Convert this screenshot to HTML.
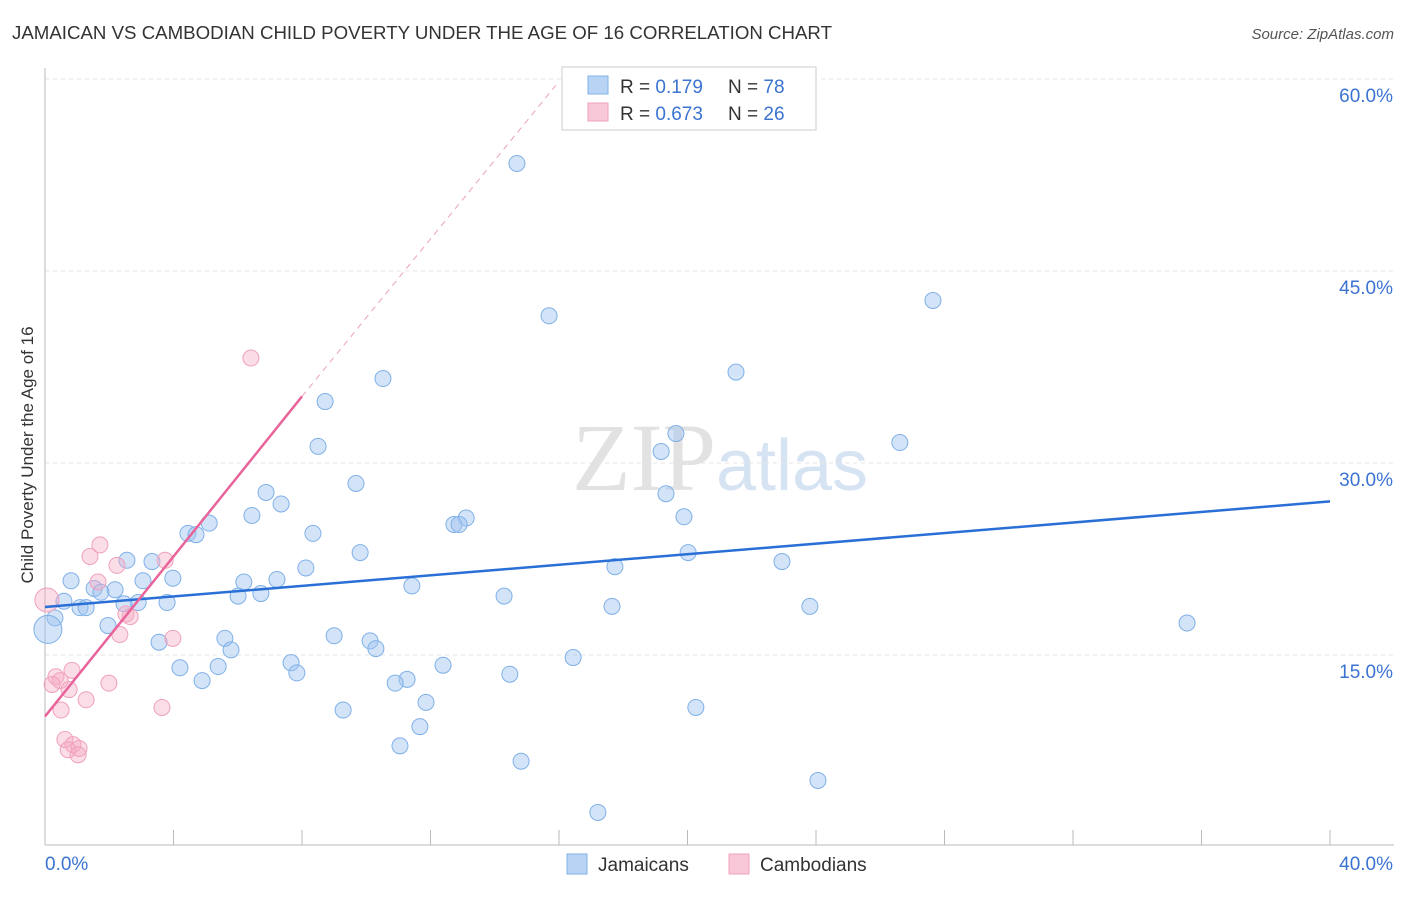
<!DOCTYPE html>
<html><head><meta charset="utf-8"><style>
body{margin:0;background:#fff;font-family:"Liberation Sans",sans-serif;}
</style></head><body>
<svg id="chart" width="1406" height="892" xmlns="http://www.w3.org/2000/svg" font-family="Liberation Sans, sans-serif">
<text x="12" y="39" font-size="18" fill="#333" textLength="820" lengthAdjust="spacingAndGlyphs">JAMAICAN VS CAMBODIAN CHILD POVERTY UNDER THE AGE OF 16 CORRELATION CHART</text>
<text x="1394" y="39" font-size="15" fill="#555" text-anchor="end" font-style="italic">Source: ZipAtlas.com</text>
<text transform="translate(33,455) rotate(-90)" font-size="17" fill="#333" text-anchor="middle">Child Poverty Under the Age of 16</text>
<text x="720" y="490" font-size="96" fill="#e2e2e2" text-anchor="middle" font-family="Liberation Serif, serif">ZIP<tspan fill="#d6e3f3" font-family="Liberation Sans, sans-serif" font-size="72">atlas</tspan></text>
<g id="grid"></g><g id="marks"></g>
<g>
<rect x="562" y="67" width="254" height="63" fill="#fff" stroke="#ccc"/>
<rect x="588" y="76" width="20" height="18" fill="#b9d3f5" stroke="#7fb0e8"/>
<rect x="588" y="103" width="20" height="18" fill="#f9c8d8" stroke="#f0a0bc"/>
<text x="620" y="93" font-size="19" fill="#333">R = <tspan fill="#3b73d1">0.179</tspan><tspan x="728">N = </tspan><tspan fill="#3b73d1">78</tspan></text>
<text x="620" y="120" font-size="19" fill="#333">R = <tspan fill="#3b73d1">0.673</tspan><tspan x="728">N = </tspan><tspan fill="#3b73d1">26</tspan></text>
</g>
<g>
<rect x="567" y="854" width="20" height="20" fill="#b9d3f5" stroke="#7fb0e8"/>
<text x="598" y="871" font-size="19" fill="#333">Jamaicans</text>
<rect x="729" y="854" width="20" height="20" fill="#f9c8d8" stroke="#f0a0bc"/>
<text x="760" y="871" font-size="19" fill="#333">Cambodians</text>
</g>
</svg>
<script>
const yTicks=[15,30,45,60];
const yTickLabels=["15.0%","30.0%","45.0%","60.0%"];
const xTicks=[0,4,8,12,16,20,24,28,32,36,40];
const jamX=[14.69,15.69,27.64,10.52,21.51,8.72,8.50,19.64,19.18,26.61,9.68,6.88,7.35,6.44,19.33,19.89,13.11,12.73,12.89,5.11,4.45,4.70,8.34,9.81,20.02,22.94,2.55,3.33,17.74,8.12,0.81,3.98,3.05,6.19,7.22,11.42,1.53,2.18,1.74,6.01,6.72,14.29,0.59,2.90,3.80,2.46,1.09,1.28,17.65,23.81,0.31,1.96,35.55,3.55,5.60,9.00,10.12,10.30,5.79,16.44,7.66,4.20,5.39,12.39,7.84,14.47,11.27,10.90,4.89,11.86,20.26,9.28,11.67,11.05,14.82,24.06,17.21,0.09];
const jamY=[53.4,41.5,42.7,36.6,37.1,34.8,31.3,32.3,30.9,31.6,28.4,27.7,26.8,25.9,27.6,25.8,25.7,25.2,25.2,25.3,24.5,24.4,24.5,23.0,23.0,22.3,22.4,22.3,21.9,21.8,20.8,21.0,20.8,20.7,20.9,20.4,20.2,20.1,19.9,19.6,19.8,19.6,19.2,19.1,19.1,19.0,18.7,18.7,18.8,18.8,17.9,17.3,17.5,16.0,16.3,16.5,16.1,15.5,15.4,14.8,14.4,14.0,14.1,14.2,13.6,13.5,13.1,12.8,13.0,11.3,10.9,10.7,9.4,7.9,6.7,5.2,2.7,17.0];
const camX=[6.41,1.71,1.40,3.74,2.24,1.65,2.52,2.65,2.33,3.98,0.84,0.34,0.47,1.99,0.22,0.75,1.28,0.50,3.64,0.62,0.87,1.06,0.72,1.03,0.06];
const camY=[38.2,23.6,22.7,22.4,22.0,20.7,18.2,18.0,16.6,16.3,13.8,13.3,13.0,12.8,12.7,12.3,11.5,10.7,10.9,8.4,8.0,7.7,7.6,7.2,19.3];
const jamTrend=[[0,18.75],[40,27.0]];
const camTrend=[[0,10.2],[8,35.2]];
const camTrendDash=[[8,35.2],[15.9,59.5]];
const NS="http://www.w3.org/2000/svg";
const X=v=>45+v*32.125, Y=v=>847-v*12.8;
function mk(t,a,p){const e=document.createElementNS(NS,t);for(const k in a)e.setAttribute(k,a[k]);p.appendChild(e);return e;}
const grid=document.getElementById('grid'),marks=document.getElementById('marks');
yTicks.forEach((t,i)=>{
 const l=mk('line',{x1:45,x2:1394,y1:Y(t),y2:Y(t),stroke:'#e4e4e4','stroke-dasharray':'4,4'},grid);
 
 
 const tx=mk('text',{x:1393,y:Y(t)+23,'font-size':19,fill:'#3b73d1','text-anchor':'end'},grid);
 tx.textContent=yTickLabels[i];
 
 
});
const ax=mk('line',{x1:45,x2:1394,y1:845,y2:845,stroke:'#bbb'},grid);


const ay=mk('line',{x1:45,x2:45,y1:68,y2:845,stroke:'#bbb'},grid);


xTicks.forEach(t=>{const l=mk('line',{x1:X(t),x2:X(t),y1:830,y2:845,stroke:'#bbb'},grid);
 
 });
const xl0=mk('text',{x:45,y:870,'font-size':19,fill:'#3b73d1'},grid);xl0.textContent="0.0%";


const xl1=mk('text',{x:1393,y:870,'font-size':19,fill:'#3b73d1','text-anchor':'end'},grid);xl1.textContent="40.0%";


jamX.forEach((v,i)=>{const r=(i==jamX.length-1)?14:8;
 const c=mk('circle',{cx:X(v),cy:Y(jamY[i]),r:r,fill:'rgba(160,196,240,0.45)',stroke:'#7fb0e8','stroke-width':1},marks);
 
 });
camX.forEach((v,i)=>{const r=(i==camX.length-1)?12:8;
 const c=mk('circle',{cx:X(v),cy:Y(camY[i]),r:r,fill:'rgba(245,170,195,0.4)',stroke:'#f0a0bc','stroke-width':1},marks);
 
 });
const l1=mk('line',{x1:X(jamTrend[0][0]),y1:Y(jamTrend[0][1]),x2:X(jamTrend[1][0]),y2:Y(jamTrend[1][1]),stroke:'#2a6fd6','stroke-width':2.5},marks);


const l2=mk('line',{x1:X(camTrend[0][0]),y1:Y(camTrend[0][1]),x2:X(camTrend[1][0]),y2:Y(camTrend[1][1]),stroke:'#e8649a','stroke-width':2.5},marks);


const l3=mk('line',{x1:X(camTrendDash[0][0]),y1:Y(camTrendDash[0][1]),x2:X(camTrendDash[1][0]),y2:Y(camTrendDash[1][1]),stroke:'#eaa0bd','stroke-width':1,'stroke-dasharray':'6,5'},marks);


</script>
</body></html>
